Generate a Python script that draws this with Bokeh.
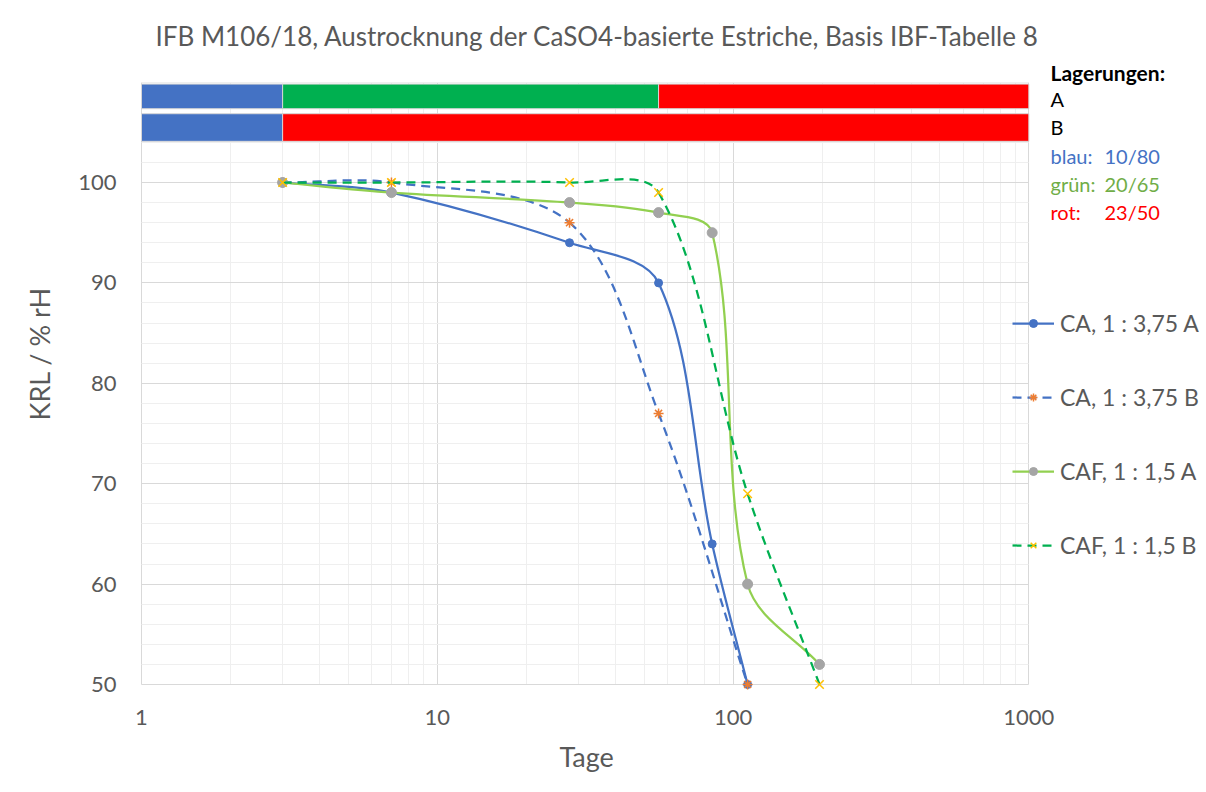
import numpy as np
from bokeh.plotting import figure
from bokeh.models import (FixedTicker, Legend, LegendItem, Label, Range1d,
                          NumeralTickFormatter, Title)
from bokeh.embed import file_html
from bokeh.resources import INLINE

# ---------------- data ----------------
ca_a_days = [3, 7, 28, 56, 85, 112]
ca_a_krl = [100, 99, 94, 90, 64, 50]

ca_b_days = [3, 7, 28, 56, 112]
ca_b_krl = [100, 100, 96, 77, 50]

caf_a_days = [3, 7, 28, 56, 85, 112, 196]
caf_a_krl = [100, 99, 98, 97, 95, 60, 52]

caf_b_days = [3, 7, 28, 56, 112, 196]
caf_b_krl = [100, 100, 100, 99, 69, 50]

series_names = ["CA, 1 : 3,75 A", "CA, 1 : 3,75 B", "CAF, 1 : 1,5 A", "CAF, 1 : 1,5 B"]

x_ticks = [1, 10, 100, 1000]
y_ticks = [50, 60, 70, 80, 90, 100]

# storage phases (Lagerungen) in days
phase_a_start = [1, 3, 56]
phase_a_end = [3, 56, 1000]
phase_a_colors = ["#4472C4", "#00B050", "#FF0000"]
phase_b_start = [1, 3]
phase_b_end = [3, 1000]
phase_b_colors = ["#4472C4", "#FF0000"]

TITLE = "IFB M106/18, Austrocknung der CaSO4-basierte Estriche, Basis IBF-Tabelle 8"
FONT = "Lato"
GRAY = "#595959"

# ---------------- layout ----------------
W, H = 1204, 790
X0, X1 = 1, 1000          # axis extent (days)
Y0, Y1 = 50, 110          # axis extent (% rH)
PX_X0 = 139               # pixel of x = 1
PX_Y0 = 684               # pixel of y = 50
DEC_PX = 889 / 3          # pixels per decade
UNIT_PX = 602.4 / 60      # pixels per % rH
# frame is a bit larger than the axis area so that legend / notes fit
FL, FR, FT, FB = 137, W, 56, 692

x_start = X0 * 10 ** ((FL - PX_X0) / DEC_PX)
x_end = X0 * 10 ** ((FR - PX_X0) / DEC_PX)
y_start = Y0 - (FB - PX_Y0) / UNIT_PX
y_end = Y0 + (PX_Y0 - FT) / UNIT_PX

p = figure(width=W, height=H, x_axis_type="log",
           x_range=Range1d(x_start, x_end), y_range=Range1d(y_start, y_end),
           output_backend="svg", toolbar_location=None,
           min_border_left=FL, min_border_right=W - FR,
           min_border_top=FT, min_border_bottom=H - FB)
p.outline_line_color = None
p.background_fill_color = "white"

p.title.text = TITLE
p.title.text_font = FONT
p.title.text_font_size = "26px"
p.title.text_font_style = "normal"
p.title.text_color = GRAY
p.title.align = "left"
p.title.offset = 16
p.title.standoff = 10

# axes
minor_x = [m * 10 ** k for k in range(3) for m in range(2, 10)]
p.xaxis.ticker = FixedTicker(ticks=x_ticks, minor_ticks=minor_x)
p.xaxis.formatter = NumeralTickFormatter(format="0")
minor_y = [v for v in range(Y0, Y1 + 1, 2) if v not in y_ticks]
p.yaxis.ticker = FixedTicker(ticks=y_ticks, minor_ticks=minor_y)
p.xaxis.bounds = (X0, X1)
p.yaxis.bounds = (Y0, Y1)

for ax in (p.xaxis, p.yaxis):
    ax.axis_line_color = None
    ax.major_tick_line_color = None
    ax.minor_tick_line_color = None
    ax.major_tick_in = 0
    ax.major_tick_out = 0
    ax.minor_tick_in = 0
    ax.minor_tick_out = 0
    ax.major_label_text_font = FONT
    ax.major_label_text_font_size = "22px"
    ax.major_label_text_color = GRAY

p.xaxis.major_label_standoff = 17
p.yaxis.major_label_standoff = 23

p.xgrid.bounds = (X0, X1)
p.xgrid.cross_bounds = (Y0, Y1)
p.ygrid.bounds = (Y0, Y1)
p.ygrid.cross_bounds = (X0, X1)
for g in (p.xgrid, p.ygrid):
    g.grid_line_color = "#D9D9D9"
    g.grid_line_width = 1
    g.minor_grid_line_color = "#EFEFEF"
    g.minor_grid_line_width = 1

# axis titles (as side-panel titles so they can be positioned along the axis)
ytitle = Title(text="KRL / % rH", align="left", offset=272,
               text_font=FONT, text_font_size="27px",
               text_font_style="normal", text_color=GRAY, standoff=40)
p.add_layout(ytitle, "left")
xtitle = Title(text="Tage", align="left", offset=420,
               text_font=FONT, text_font_size="27px",
               text_font_style="normal", text_color=GRAY, standoff=20)
p.add_layout(xtitle, "below")

# storage phase bars
p.quad(left=phase_a_start, right=phase_a_end, bottom=107.35, top=109.8,
       fill_color=phase_a_colors, line_color="#D6D6D6", line_width=1)
p.quad(left=phase_b_start, right=phase_b_end, bottom=104.1, top=106.85,
       fill_color=phase_b_colors, line_color="#D6D6D6", line_width=1)

# smoothed (Excel-like) curves: cubic Bezier in screen space
def smooth(xs, ys):
    P = np.column_stack([np.log10(xs) * DEC_PX, np.asarray(ys, float) * UNIT_PX])
    Pe = np.vstack([P[0], P, P[-1]])
    out = {k: [] for k in ("x0", "y0", "x1", "y1", "cx0", "cy0", "cx1", "cy1")}
    for i in range(len(P) - 1):
        a, b, c, d = Pe[i], Pe[i + 1], Pe[i + 2], Pe[i + 3]
        dab = np.hypot(*(b - a)); dbc = np.hypot(*(c - b)); dcd = np.hypot(*(d - c))
        f0 = 2 * dbc / (dab + dbc) if dab + dbc > 0 else 1
        f1 = 2 * dbc / (dbc + dcd) if dbc + dcd > 0 else 1
        c0 = b + (c - a) / 6.0 * f0
        c1 = c - (d - b) / 6.0 * f1
        out["x0"].append(10 ** (b[0] / DEC_PX)); out["y0"].append(b[1] / UNIT_PX)
        out["x1"].append(10 ** (c[0] / DEC_PX)); out["y1"].append(c[1] / UNIT_PX)
        out["cx0"].append(10 ** (c0[0] / DEC_PX)); out["cy0"].append(c0[1] / UNIT_PX)
        out["cx1"].append(10 ** (c1[0] / DEC_PX)); out["cy1"].append(c1[1] / UNIT_PX)
    return out


styles = [
    # days, values, line color, dash, marker, marker color, size, marker line width
    (ca_a_days, ca_a_krl, "#4472C4", "solid", "circle", "#4472C4", 8, 1),
    (ca_b_days, ca_b_krl, "#4472C4", "9 6", "asterisk", "#ED7D31", 10, 1.5),
    (caf_a_days, caf_a_krl, "#92D050", "solid", "circle", "#A5A5A5", 10, 1),
    (caf_b_days, caf_b_krl, "#00B050", "9 6", "x", "#FFC000", 12, 1.5),
]

items = []
for name, (xs, ys, lc, dash, mk, mc, ms, mlw) in zip(series_names, styles):
    p.bezier(**smooth(xs, ys), line_color=lc, line_width=2.25, line_dash=dash)
    proxy = p.line(x=[np.nan], y=[np.nan], line_color=lc, line_width=2.25, line_dash=dash)
    sc = p.scatter(xs, ys, marker=mk, size=ms, fill_color=mc, line_color=mc,
                   line_width=mlw)
    items.append(LegendItem(label=name, renderers=[proxy, sc]))

legend = Legend(items=items, location=(873, 133), padding=0, margin=0,
                spacing=46, glyph_width=42, glyph_height=20, label_height=20,
                label_standoff=6, border_line_color=None,
                background_fill_alpha=0,
                label_text_font=FONT, label_text_font_size="23px",
                label_text_color=GRAY)
p.add_layout(legend)

# storage annotations (screen offsets from the frame's bottom-left corner)
notes = [
    ("Lagerungen:", 72, "black", "bold", "21px"),
    ("A", 98, "black", "normal", "20px"),
    ("B", 126, "black", "normal", "20px"),
    ("blau:", 155, "#4472C4", "normal", "20px"),
    ("grün:", 183, "#70AD47", "normal", "20px"),
    ("rot:", 211, "#FF0000", "normal", "20px"),
]
for txt, yy, col, st, fs in notes:
    p.add_layout(Label(x=1048 - FL, y=FB - yy, x_units="screen", y_units="screen",
                       text=txt, text_font=FONT, text_font_size=fs,
                       text_font_style=st, text_color=col,
                       text_baseline="middle"))
vals = [("10/80", 155, "#4472C4"), ("20/65", 183, "#70AD47"), ("23/50", 211, "#FF0000")]
for txt, yy, col in vals:
    p.add_layout(Label(x=1102 - FL, y=FB - yy, x_units="screen", y_units="screen",
                       text=txt, text_font=FONT, text_font_size="20px",
                       text_color=col, text_baseline="middle"))

open("out.html", "w").write(file_html(p, INLINE))
